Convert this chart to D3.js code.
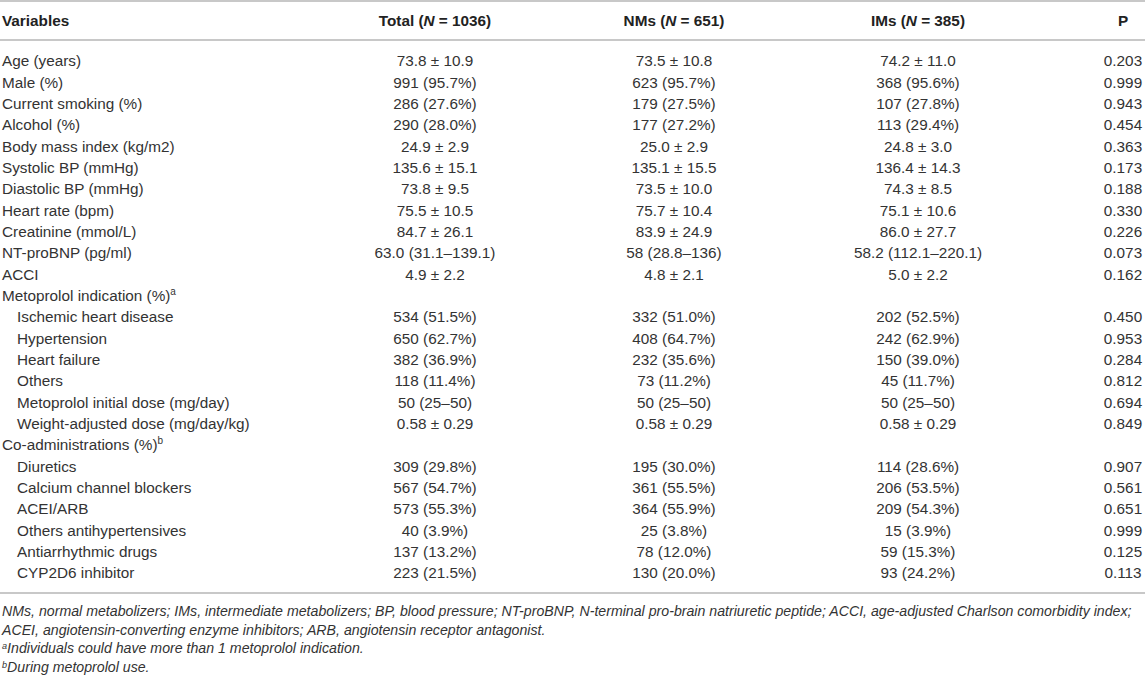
<!DOCTYPE html>
<html>
<head>
<meta charset="utf-8">
<script src="https://cdn.jsdelivr.net/npm/d3@7"></script>
<style>
  body { margin: 0; background: #fff; }
  svg { display: block; font-family: "Liberation Sans", Arial, Helvetica, sans-serif; }
</style>
</head>
<body>
<script>

const W = 1145;
const H = 679;

// table content
const columns = ["total", "nms", "ims", "p"];
const headLabels = ["Total", "NMs", "IMs", "P"];
const headN = ["1036", "651", "385", ""];

const variables = ["Age (years)", "Male (%)", "Current smoking (%)", "Alcohol (%)",
  "Body mass index (kg/m2)", "Systolic BP (mmHg)", "Diastolic BP (mmHg)", "Heart rate (bpm)",
  "Creatinine (mmol/L)", "NT-proBNP (pg/ml)", "ACCI", "Metoprolol indication (%)",
  "Ischemic heart disease", "Hypertension", "Heart failure", "Others",
  "Metoprolol initial dose (mg/day)", "Weight-adjusted dose (mg/day/kg)", "Co-administrations (%)",
  "Diuretics", "Calcium channel blockers", "ACEI/ARB", "Others antihypertensives",
  "Antiarrhythmic drugs", "CYP2D6 inhibitor"];
const levels = [0,0,0,0,0,0,0,0,0,0,0,0,1,1,1,1,1,1,0,1,1,1,1,1,1];
const marks = ["","","","","","","","","","","","a","","","","","","","b","","","","","",""];

const total = ["73.8 ± 10.9","991 (95.7%)","286 (27.6%)","290 (28.0%)","24.9 ± 2.9","135.6 ± 15.1",
  "73.8 ± 9.5","75.5 ± 10.5","84.7 ± 26.1","63.0 (31.1–139.1)","4.9 ± 2.2","",
  "534 (51.5%)","650 (62.7%)","382 (36.9%)","118 (11.4%)","50 (25–50)","0.58 ± 0.29","",
  "309 (29.8%)","567 (54.7%)","573 (55.3%)","40 (3.9%)","137 (13.2%)","223 (21.5%)"];
const nms = ["73.5 ± 10.8","623 (95.7%)","179 (27.5%)","177 (27.2%)","25.0 ± 2.9","135.1 ± 15.5",
  "73.5 ± 10.0","75.7 ± 10.4","83.9 ± 24.9","58 (28.8–136)","4.8 ± 2.1","",
  "332 (51.0%)","408 (64.7%)","232 (35.6%)","73 (11.2%)","50 (25–50)","0.58 ± 0.29","",
  "195 (30.0%)","361 (55.5%)","364 (55.9%)","25 (3.8%)","78 (12.0%)","130 (20.0%)"];
const ims = ["74.2 ± 11.0","368 (95.6%)","107 (27.8%)","113 (29.4%)","24.8 ± 3.0","136.4 ± 14.3",
  "74.3 ± 8.5","75.1 ± 10.6","86.0 ± 27.7","58.2 (112.1–220.1)","5.0 ± 2.2","",
  "202 (52.5%)","242 (62.9%)","150 (39.0%)","45 (11.7%)","50 (25–50)","0.58 ± 0.29","",
  "114 (28.6%)","206 (53.5%)","209 (54.3%)","15 (3.9%)","59 (15.3%)","93 (24.2%)"];
const pvals = ["0.203","0.999","0.943","0.454","0.363","0.173","0.188","0.330","0.226","0.073","0.162","",
  "0.450","0.953","0.284","0.812","0.694","0.849","",
  "0.907","0.561","0.651","0.999","0.125","0.113"];

const footMarks = ["", "", "a", "b"];
const footnotes = [
  "NMs, normal metabolizers; IMs, intermediate metabolizers; BP, blood pressure; NT-proBNP, N-terminal pro-brain natriuretic peptide; ACCI, age-adjusted Charlson comorbidity index;",
  "ACEI, angiotensin-converting enzyme inhibitors; ARB, angiotensin receptor antagonist.",
  "Individuals could have more than 1 metoprolol indication.",
  "During metoprolol use."
];

const values = { total: total, nms: nms, ims: ims, p: pvals };

const ink = "#333333";
const rule = "#c8c8c8";

const svg = d3.select("body")
  .append("svg")
  .attr("width", W)
  .attr("height", H);

const xCol = d3.scaleOrdinal()
  .domain(columns)
  .range([435, 674, 918, 1123]);

const yRow = d3.scalePoint()
  .domain(d3.range(variables.length))
  .range([61, 573]);

const yFoot = d3.scalePoint()
  .domain(d3.range(footnotes.length))
  .range([611, 667]);

// rules
[1, 40, 593].forEach(y => {
  svg.append("line")
    .attr("x1", 0).attr("x2", W)
    .attr("y1", y).attr("y2", y)
    .attr("stroke", rule)
    .attr("stroke-width", 2);
});

// header
const head = svg.append("g")
  .attr("font-weight", "bold")
  .attr("font-size", 15.3)
  .attr("fill", "#222");

head.append("text")
  .attr("x", 2)
  .attr("y", 21)
  .attr("dy", "0.35em")
  .text("Variables");

columns.forEach((c, i) => {
  const t = head.append("text")
    .attr("x", xCol(c))
    .attr("y", 21)
    .attr("dy", "0.35em")
    .attr("text-anchor", "middle");
  if (headN[i] === "") {
    t.text(headLabels[i]);
  } else {
    t.append("tspan").text(headLabels[i] + " (");
    t.append("tspan").attr("font-style", "italic").text("N");
    t.append("tspan").text(" = " + headN[i] + ")");
  }
});

// body rows
const body = svg.append("g")
  .attr("font-size", 15.3)
  .attr("fill", ink);

const labels = body.selectAll("text.var")
  .data(variables)
  .enter()
  .append("text")
  .attr("class", "var")
  .attr("x", (d, i) => 2 + levels[i] * 15)
  .attr("y", (d, i) => yRow(i))
  .attr("dy", "0.35em");

labels.append("tspan").text(d => d);
labels.filter((d, i) => marks[i] !== "")
  .append("tspan")
  .attr("font-size", 10)
  .attr("dy", -6)
  .text(d => marks[variables.indexOf(d)]);

columns.forEach(c => {
  body.selectAll("text.c-" + c)
    .data(values[c])
    .enter()
    .append("text")
    .attr("class", "c-" + c)
    .attr("x", xCol(c))
    .attr("y", (d, i) => yRow(i))
    .attr("dy", "0.35em")
    .attr("text-anchor", "middle")
    .text(d => d);
});

// footnotes (baseline = centre + 5)
const foot = svg.append("g")
  .attr("font-size", 14)
  .attr("font-style", "italic")
  .attr("fill", ink);

const notes = foot.selectAll("text")
  .data(footnotes)
  .enter()
  .append("text")
  .attr("x", 0)
  .attr("y", (d, i) => yFoot(i) + 5);

notes.filter((d, i) => footMarks[i] !== "")
  .append("tspan")
  .attr("font-size", 9)
  .attr("dy", -4)
  .text(d => footMarks[footnotes.indexOf(d)]);

notes.append("tspan")
  .attr("dy", (d, i) => footMarks[i] !== "" ? 4 : null)
  .text(d => d);

// squeeze footnotes horizontally to the printed width
const firstW = notes.node().getComputedTextLength();
const sx = 1130 / firstW;
foot.attr("transform", `translate(2,0) scale(${sx},1)`);

</script>
</body>
</html>
